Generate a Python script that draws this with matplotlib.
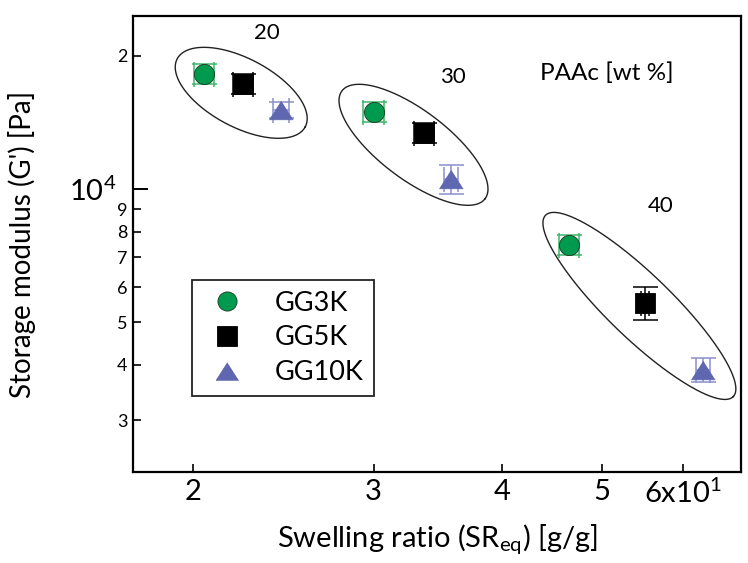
import numpy as np
import matplotlib
matplotlib.use("Agg")
import matplotlib.pyplot as plt
from matplotlib.ticker import FixedLocator, FixedFormatter

plt.rcParams['font.family'] = ['Lato', 'DejaVu Sans']
plt.rcParams['mathtext.fontset'] = 'custom'
plt.rcParams['mathtext.rm'] = 'Lato'
plt.rcParams['mathtext.it'] = 'Lato'

# ---------------- data ----------------
series_names = ["GG3K", "GG5K", "GG10K"]

gg3k_sr = [20.5, 30.0, 46.5]
gg3k_g = [18200, 14940, 7470]
gg3k_sr_err = [0.46, 0.68, 1.05]
gg3k_g_err = [950, 780, 390]

gg5k_sr = [22.4, 33.6, 55.1]
gg5k_g = [17280, 13390, 5520]
gg5k_sr_err = [0.50, 0.76, 0.45]
gg5k_g_err = [900, 700, 480]

gg10k_sr = [24.4, 35.7, 62.7]
gg10k_g = [15090, 10540, 3900]
gg10k_sr_err = [0.44, 0.57, 1.0]
gg10k_g_err = [650, 800, 250]

group_labels = ["20", "30", "40"]
group_label_sr = [23.6, 35.8, 57.0]
group_label_g = [22540, 17910, 9150]

# ellipse groups (centre in data units)
ell_cx = [22.3, 32.8, 54.4]
ell_cy = [16490, 12580, 5437]

x_ticks = [20, 30, 40, 50, 60]
x_tick_labels = ["2", "3", "4", "5", "6x10$^{1}$"]
y_minor_ticks = [3000, 4000, 5000, 6000, 7000, 8000, 9000, 20000]
y_minor_labels = ["3", "4", "5", "6", "7", "8", "9", "2"]
y_major_ticks = [10000]
y_major_labels = ["10$^{4}$"]

# ---------------- layout ----------------
W, H = 748, 563
fig = plt.figure(figsize=(W / 100, H / 100), dpi=100)
ax = fig.add_axes([133 / W, 1 - 472 / H, 608 / W, 456 / H])
ax.set_xscale('log')
ax.set_yscale('log')
ax.set_xlim(17.5, 68.3)
ax.set_ylim(2290, 24600)

green = '#009A4E'
green_err = '#3DB56B'
blue = '#5F67B0'
blue_err = '#8A90CC'

styles = [
    dict(x=gg3k_sr, y=gg3k_g, xe=gg3k_sr_err, ye=gg3k_g_err, marker='o',
         color=green, ecol=green_err, mec='#1a3a22', ms=14.5),
    dict(x=gg5k_sr, y=gg5k_g, xe=gg5k_sr_err, ye=gg5k_g_err, marker='s',
         color='black', ecol='black', mec='black', ms=15),
    dict(x=gg10k_sr, y=gg10k_g, xe=gg10k_sr_err, ye=gg10k_g_err,
         marker=[(0, 0.78), (-1, -0.78), (1, -0.78)],
         color=blue, ecol=blue_err, mec=blue, ms=17),
]

handles = []
for name, s in zip(series_names, styles):
    ax.errorbar(s['x'], s['y'], xerr=s['xe'], yerr=s['ye'], fmt='none',
                ecolor=s['ecol'], elinewidth=1.1, capsize=9, capthick=1.1,
                zorder=2)
    h, = ax.plot(s['x'], s['y'], linestyle='none', marker=s['marker'],
                 markersize=s['ms'], markerfacecolor=s['color'],
                 markeredgecolor=s['mec'], markeredgewidth=0.6,
                 zorder=3, label=name)
    handles.append(h)

# ellipses drawn in display space so they look like true ellipses
ell_a = [72.5, 89.6, 130.5]
ell_b = [34.2, 34.4, 32.0]
ell_ang = [-28, -37, -44]
t = np.linspace(0, 2 * np.pi, 400)
for cx, cy, a, b, ang in zip(ell_cx, ell_cy, ell_a, ell_b, ell_ang):
    c = ax.transData.transform((cx, cy))
    th = np.deg2rad(ang)
    px = c[0] + a * np.cos(t) * np.cos(th) - b * np.sin(t) * np.sin(th)
    py = c[1] + a * np.cos(t) * np.sin(th) + b * np.sin(t) * np.cos(th)
    d = ax.transData.inverted().transform(np.column_stack([px, py]))
    ax.plot(d[:, 0], d[:, 1], color='#222222', lw=1.0, zorder=1)

for lab, x, y in zip(group_labels, group_label_sr, group_label_g):
    ax.text(x, y, lab, fontsize=16, ha='center', va='center')
ax.text(50.6, 18300, "PAAc [wt %]", fontsize=17.5, ha='center', va='center')

# ticks
ax.xaxis.set_major_locator(FixedLocator([]))
ax.xaxis.set_minor_locator(FixedLocator(x_ticks))
ax.xaxis.set_minor_formatter(FixedFormatter(x_tick_labels))
ax.yaxis.set_major_locator(FixedLocator(y_major_ticks))
ax.yaxis.set_major_formatter(FixedFormatter(y_major_labels))
ax.yaxis.set_minor_locator(FixedLocator(y_minor_ticks))
ax.yaxis.set_minor_formatter(FixedFormatter(y_minor_labels))

ax.tick_params(axis='x', which='minor', direction='in', length=6, width=1.2,
               labelsize=21, pad=5, top=False)
ax.tick_params(axis='y', which='minor', direction='in', length=6, width=1.2,
               labelsize=13, pad=4, right=False)
ax.tick_params(axis='y', which='major', direction='in', length=11, width=1.4,
               labelsize=21, pad=12, right=False)

for sp in ax.spines.values():
    sp.set_linewidth(1.6)

ax.set_xlabel("Swelling ratio (SR$_{\\mathrm{eq}}$) [g/g]", fontsize=21, labelpad=10)
ax.set_ylabel("Storage modulus (G') [Pa]", fontsize=20, labelpad=24)

leg = ax.legend(handles=handles, loc='lower left',
                bbox_to_anchor=((192 - 133) / 608, (472 - 396) / 456),
                borderaxespad=0, fancybox=False, edgecolor='#222222',
                framealpha=1, fontsize=19.5, handletextpad=0.85,
                labelspacing=0.36, borderpad=0.4, handlelength=1.8,
                markerscale=0.95)
leg.get_frame().set_linewidth(1.3)

fig.savefig("out.png", dpi=100)
